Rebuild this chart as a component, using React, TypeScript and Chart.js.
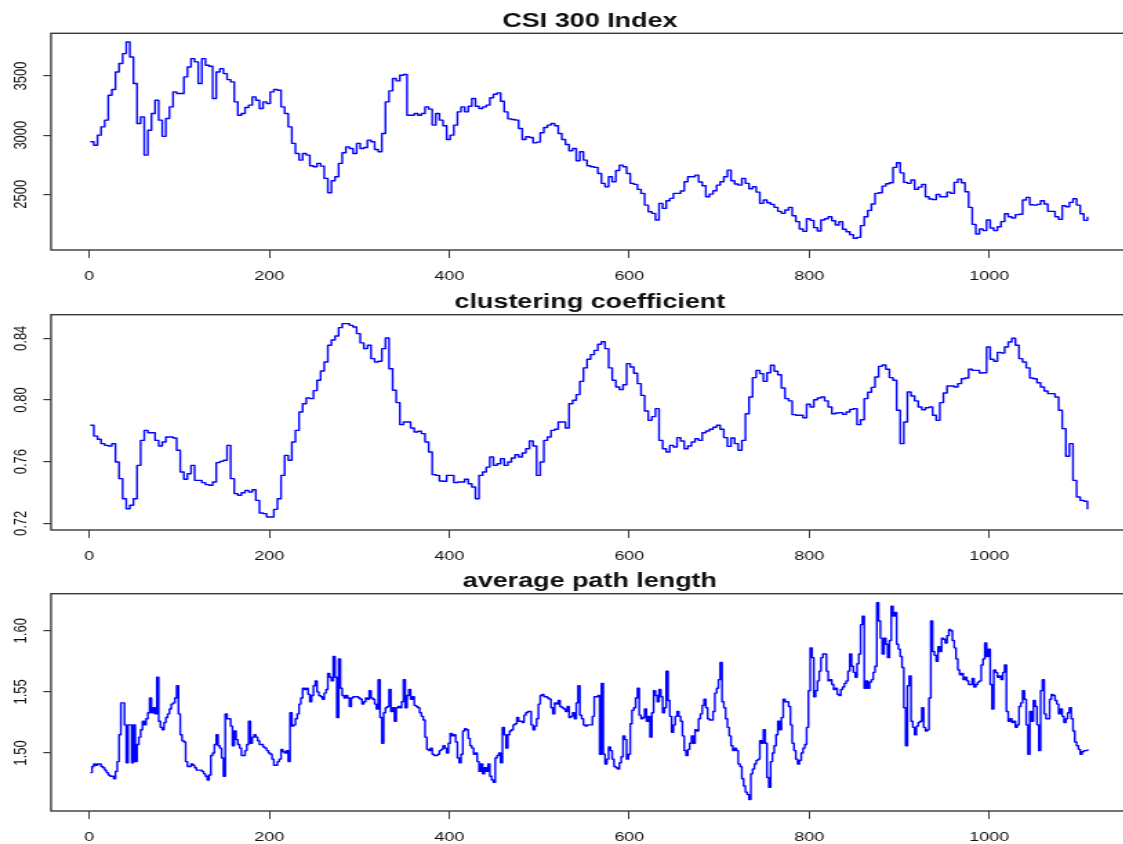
import React, { useEffect, useRef } from "react";
import { Chart, registerables } from "chart.js";

Chart.register(...registerables);

// ---- data -------------------------------------------------------------

const X_TICKS = [0, 200, 400, 600, 800, 1000];

const CSI_TICKS = [2500, 3000, 3500];
const CSI_TICK_LABELS = ["2500", "3000", "3500"];
const CC_TICKS = [0.72, 0.76, 0.8, 0.84];
const CC_TICK_LABELS = ["0.72", "0.76", "0.80", "0.84"];
const APL_TICKS = [1.5, 1.55, 1.6];
const APL_TICK_LABELS = ["1.50", "1.55", "1.60"];

// CSI 300 closing level, every 4th trading day starting at day 1
const CSI_300 = [
  2944, 2915, 3000, 3070, 3127, 3338, 3386, 3535, 3606, 3690,
  3789, 3662, 3437, 3099, 3155, 2831, 3042, 3183, 3296, 3127,
  2990, 3141, 3239, 3366, 3352, 3352, 3493, 3577, 3648, 3620,
  3437, 3648, 3592, 3583, 3310, 3535, 3563, 3521, 3470, 3451,
  3282, 3169, 3183, 3234, 3254, 3324, 3296, 3225, 3282, 3268,
  3366, 3386, 3380, 3239, 3183, 3070, 2930, 2845, 2789, 2845,
  2831, 2741, 2732, 2761, 2738, 2634, 2513, 2614, 2648, 2761,
  2851, 2901, 2887, 2845, 2930, 2887, 2896, 2958, 2944, 2879,
  2859, 3014, 3282, 3375, 3479, 3459, 3507, 3513, 3169, 3169,
  3183, 3169, 3183, 3239, 3220, 3085, 3183, 3127, 3079, 2963,
  3000, 3085, 3197, 3239, 3197, 3245, 3310, 3245, 3225, 3239,
  3254, 3316, 3346, 3358, 3287, 3197, 3138, 3132, 3127, 3056,
  2963, 2986, 2980, 2935, 2941, 3020, 3065, 3085, 3099, 3079,
  3014, 2963, 2921, 2868, 2887, 2783, 2859, 2789, 2741, 2732,
  2727, 2676, 2592, 2563, 2648, 2606, 2701, 2746, 2732, 2676,
  2592, 2583, 2541, 2507, 2408, 2352, 2338, 2282, 2423, 2380,
  2445, 2465, 2507, 2507, 2527, 2606, 2648, 2648, 2662, 2603,
  2572, 2479, 2501, 2530, 2577, 2606, 2648, 2704, 2614, 2586,
  2577, 2634, 2592, 2546, 2563, 2518, 2423, 2451, 2428, 2414,
  2389, 2355, 2338, 2366, 2389, 2318, 2268, 2206, 2186, 2293,
  2279, 2217, 2189, 2282, 2293, 2310, 2276, 2239, 2268, 2203,
  2183, 2158, 2127, 2135, 2234, 2310, 2363, 2417, 2507, 2513,
  2569, 2589, 2597, 2727, 2766, 2681, 2600, 2592, 2620, 2541,
  2560, 2583, 2479, 2459, 2454, 2499, 2479, 2479, 2518, 2507,
  2600, 2628, 2597, 2521, 2389, 2245, 2163, 2206, 2192, 2282,
  2214, 2192, 2225, 2268, 2335, 2310, 2299, 2327, 2330, 2451,
  2473, 2411, 2408, 2414, 2445, 2417, 2355, 2355, 2310, 2287,
  2403, 2394, 2431, 2462, 2408, 2335, 2279, 2310,
];

// network clustering coefficient, every 4th day
const CLUSTERING = [
  0.7836, 0.7766, 0.7745, 0.7717, 0.7706, 0.7702, 0.7717, 0.7598, 0.749, 0.736,
  0.7295, 0.7317, 0.736, 0.7576, 0.7738, 0.7803, 0.7788, 0.7788, 0.7738, 0.7702,
  0.7728, 0.776, 0.776, 0.7754, 0.7674, 0.7533, 0.7486, 0.7522, 0.7576, 0.7479,
  0.7479, 0.7464, 0.7451, 0.7447, 0.7468, 0.7594, 0.7602, 0.7609, 0.7706, 0.749,
  0.7393, 0.7382, 0.7399, 0.7414, 0.7403, 0.7418, 0.7349, 0.7267, 0.7263, 0.7241,
  0.7241, 0.7291, 0.736, 0.7511, 0.7641, 0.7609, 0.7728, 0.7803, 0.7922, 0.7976,
  0.8013, 0.8009, 0.8061, 0.8128, 0.8188, 0.8246, 0.8355, 0.8389, 0.8415, 0.8469,
  0.8495, 0.8495, 0.8484, 0.8473, 0.843, 0.837, 0.8333, 0.8355, 0.8268, 0.8246,
  0.8251, 0.8333, 0.8402, 0.8203, 0.8063, 0.7983, 0.784, 0.7857, 0.7857, 0.7818,
  0.7792, 0.7797, 0.7782, 0.7728, 0.7663, 0.7516, 0.7511, 0.7475, 0.7473, 0.7511,
  0.7511, 0.7464, 0.7468, 0.7468, 0.7486, 0.7457, 0.7436, 0.736, 0.7511, 0.7533,
  0.7565, 0.763, 0.7576, 0.7587, 0.762, 0.7576, 0.7598, 0.7624, 0.7645, 0.763,
  0.7656, 0.7684, 0.7734, 0.7702, 0.7511, 0.7598, 0.7738, 0.776, 0.7803, 0.781,
  0.7857, 0.7857, 0.7818, 0.7976, 0.7998, 0.8035, 0.8121, 0.8208, 0.8264, 0.8294,
  0.8322, 0.8361, 0.8378, 0.8333, 0.8208, 0.8128, 0.8084, 0.8067, 0.8099, 0.8236,
  0.8214, 0.8173, 0.8106, 0.803, 0.7929, 0.7868, 0.7892, 0.7944, 0.7738, 0.7684,
  0.7663, 0.7706, 0.7695, 0.7756, 0.7734, 0.7684, 0.7702, 0.7728, 0.7749, 0.7738,
  0.7788, 0.7799, 0.781, 0.7823, 0.7836, 0.781, 0.7756, 0.7699, 0.7754, 0.7717,
  0.7674, 0.7738, 0.7911, 0.8019, 0.8145, 0.8192, 0.8171, 0.8121, 0.8177, 0.8225,
  0.8186, 0.8164, 0.8078, 0.8009, 0.7994, 0.7905, 0.7901, 0.7901, 0.7885, 0.7972,
  0.7955, 0.8002, 0.8013, 0.8019, 0.7994, 0.7955, 0.7911, 0.7916, 0.7918, 0.7907,
  0.7922, 0.7939, 0.7944, 0.784, 0.7872, 0.8009, 0.805, 0.8082, 0.8149, 0.8218,
  0.8227, 0.8199, 0.8145, 0.8128, 0.7933, 0.7717, 0.7857, 0.8052, 0.8026, 0.7994,
  0.7955, 0.7937, 0.795, 0.7955, 0.7901, 0.7868, 0.7983, 0.8045, 0.8091, 0.8091,
  0.8084, 0.8106, 0.8138, 0.8143, 0.8199, 0.8192, 0.8192, 0.8175, 0.8177, 0.8344,
  0.8264, 0.8251, 0.8309, 0.8305, 0.8344, 0.8376, 0.84, 0.8355, 0.8268, 0.8246,
  0.8208, 0.8143, 0.8138, 0.8112, 0.8084, 0.8058, 0.8041, 0.8041, 0.8019, 0.7933,
  0.7814, 0.7635, 0.7717, 0.7479, 0.7371, 0.7349, 0.7343, 0.7291,
];

// network average path length, every 2nd day
const PATH_LENGTH = [
  1.484, 1.489, 1.491, 1.49, 1.491, 1.491, 1.489, 1.488, 1.486, 1.484,
  1.482, 1.481, 1.481, 1.479, 1.485, 1.493, 1.515, 1.541, 1.541, 1.523,
  1.492, 1.523, 1.523, 1.492, 1.523, 1.493, 1.507, 1.513, 1.519, 1.526,
  1.523, 1.528, 1.533, 1.545, 1.533, 1.537, 1.532, 1.562, 1.526, 1.521,
  1.519, 1.525, 1.529, 1.532, 1.536, 1.54, 1.541, 1.545, 1.555, 1.532,
  1.515, 1.51, 1.509, 1.493, 1.489, 1.489, 1.491, 1.49, 1.488, 1.486,
  1.486, 1.486, 1.485, 1.483, 1.481, 1.478, 1.482, 1.498, 1.5, 1.507,
  1.515, 1.506, 1.504, 1.496, 1.481, 1.532, 1.528, 1.528, 1.522, 1.506,
  1.518, 1.511, 1.507, 1.504, 1.498, 1.498, 1.502, 1.507, 1.526, 1.508,
  1.513, 1.515, 1.513, 1.51, 1.507, 1.507, 1.505, 1.504, 1.502, 1.5,
  1.499, 1.495, 1.49, 1.49, 1.493, 1.495, 1.503, 1.501, 1.5, 1.502,
  1.493, 1.533, 1.522, 1.523, 1.528, 1.532, 1.54, 1.545, 1.553, 1.552,
  1.553, 1.548, 1.542, 1.547, 1.555, 1.559, 1.55, 1.547, 1.546, 1.544,
  1.549, 1.552, 1.565, 1.562, 1.559, 1.579, 1.562, 1.529, 1.577, 1.553,
  1.547, 1.545, 1.547, 1.545, 1.538, 1.545, 1.546, 1.546, 1.546, 1.545,
  1.544, 1.54, 1.542, 1.545, 1.544, 1.551, 1.545, 1.544, 1.54, 1.536,
  1.56, 1.529, 1.508, 1.533, 1.537, 1.538, 1.552, 1.534, 1.537, 1.526,
  1.537, 1.538, 1.537, 1.542, 1.56, 1.537, 1.547, 1.552, 1.544, 1.546,
  1.539, 1.538, 1.537, 1.533, 1.53, 1.527, 1.513, 1.503, 1.502, 1.504,
  1.499, 1.498, 1.498, 1.499, 1.502, 1.503, 1.506, 1.504, 1.5, 1.508,
  1.516, 1.514, 1.515, 1.509, 1.496, 1.492, 1.499, 1.518, 1.52, 1.519,
  1.512, 1.506, 1.504, 1.499, 1.5, 1.493, 1.485, 1.491, 1.483, 1.488,
  1.485, 1.491, 1.481, 1.478, 1.476, 1.496, 1.498, 1.5, 1.492, 1.521,
  1.515, 1.504, 1.515, 1.518, 1.519, 1.523, 1.524, 1.529, 1.526, 1.526,
  1.525, 1.531, 1.533, 1.534, 1.534, 1.523, 1.519, 1.522, 1.528, 1.54,
  1.547, 1.548, 1.546, 1.546, 1.545, 1.544, 1.537, 1.532, 1.541, 1.54,
  1.543, 1.538, 1.537, 1.536, 1.534, 1.538, 1.529, 1.53, 1.533, 1.528,
  1.541, 1.555, 1.531, 1.528, 1.523, 1.522, 1.523,
  1.523, 1.523, 1.53, 1.546, 1.546, 1.547, 1.499, 1.557, 1.499, 1.491,
  1.495, 1.505, 1.502, 1.495, 1.489, 1.488, 1.487, 1.492, 1.497, 1.514,
  1.511, 1.495, 1.499, 1.524, 1.535, 1.537, 1.545, 1.553, 1.531, 1.528,
  1.529, 1.536, 1.526, 1.53, 1.513, 1.533, 1.551, 1.547, 1.542, 1.552,
  1.546, 1.533, 1.537, 1.567, 1.543, 1.53, 1.517, 1.523, 1.53, 1.534,
  1.53, 1.526, 1.514, 1.502, 1.498, 1.503, 1.508, 1.514, 1.508, 1.519,
  1.518, 1.528, 1.532, 1.539, 1.544, 1.537, 1.528, 1.527, 1.527, 1.534,
  1.549, 1.553, 1.56, 1.574, 1.542, 1.537, 1.528, 1.521, 1.514, 1.506,
  1.502, 1.504, 1.502, 1.491, 1.489, 1.479, 1.473, 1.468, 1.466, 1.462,
  1.483, 1.487, 1.491, 1.494, 1.495, 1.51, 1.508, 1.519, 1.508, 1.48,
  1.472, 1.493, 1.5, 1.506, 1.515, 1.526, 1.519, 1.529, 1.544, 1.542,
  1.542, 1.538, 1.523, 1.508, 1.502, 1.495, 1.491, 1.494, 1.5, 1.504,
  1.507, 1.521, 1.551, 1.586, 1.578, 1.546, 1.551, 1.559, 1.567, 1.578,
  1.581, 1.581, 1.567, 1.559, 1.56, 1.556, 1.552, 1.553, 1.548, 1.547,
  1.552, 1.554, 1.557, 1.559, 1.567, 1.581, 1.571, 1.566, 1.562, 1.573,
  1.581, 1.605, 1.612, 1.553, 1.559, 1.553, 1.558, 1.56, 1.566, 1.571,
  1.623, 1.608, 1.594, 1.581, 1.594, 1.589, 1.578, 1.592, 1.62, 1.612,
  1.615, 1.589, 1.585, 1.579, 1.57, 1.537, 1.506, 1.555, 1.563, 1.526,
  1.521, 1.515, 1.522, 1.525, 1.526, 1.537, 1.521, 1.518, 1.519, 1.545,
  1.608, 1.583, 1.58, 1.575, 1.587, 1.583, 1.594, 1.593, 1.59, 1.596,
  1.601, 1.6, 1.592, 1.586, 1.577, 1.568, 1.564, 1.565, 1.56, 1.562,
  1.559, 1.556, 1.556, 1.561, 1.554, 1.556, 1.558, 1.559, 1.572, 1.577,
  1.59, 1.579, 1.585, 1.556, 1.536, 1.568, 1.566, 1.562, 1.563, 1.56,
  1.566, 1.572, 1.534, 1.526, 1.528, 1.525, 1.526, 1.521, 1.523, 1.538,
  1.541, 1.551, 1.544, 1.523, 1.499, 1.534, 1.526, 1.543, 1.538, 1.523,
  1.502, 1.551, 1.56, 1.532, 1.528, 1.528, 1.544, 1.548, 1.547, 1.543,
  1.54, 1.532, 1.536, 1.53, 1.525, 1.528, 1.533, 1.537, 1.528, 1.518,
  1.509, 1.506, 1.503, 1.499, 1.501, 1.502, 1.502, 1.503,
];

const CSI_DAYS = CSI_300.map((_, i) => 1 + i * 4);
const CLUSTERING_DAYS = CLUSTERING.map((_, i) => 1 + i * 4);
const PATH_LENGTH_DAYS = PATH_LENGTH.map((_, i) => 1 + i * 2);

// ---- layout -------------------------------------------------------------

// Each panel is drawn on a narrower canvas and widened with CSS.
const INTERNAL_W = 826;
const DISPLAY_W = 1140;
const SX = DISPLAY_W / INTERNAL_W;

const FRAME_LEFT = 51 / SX;
const FRAME_RIGHT = 1128.8 / SX;
const X_MIN = -42.6;
const X_MAX = 1155;

const LINE_COLOR = "#0000ff";
const FRAME_COLOR = "#3a3a3a";
const TEXT_COLOR = "#111111";
const FONT = '"Liberation Sans", Arial, Helvetica, sans-serif';

type PanelSpec = {
  title: string;
  days: number[];
  values: number[];
  yMin: number;
  yMax: number;
  yTicks: number[];
  yLabels: string[];
  top: number;
  height: number;
  frameTop: number;
  frameBottom: number;
};

const decorPlugin = {
  id: "panelDecor",
  afterDraw(chart: any, _args: any, opts: any) {
    const { ctx, chartArea: a, scales } = chart;
    ctx.save();

    // plot box
    ctx.strokeStyle = FRAME_COLOR;
    ctx.lineWidth = 1.4;
    ctx.strokeRect(a.left, a.top, a.right - a.left, a.bottom - a.top);

    ctx.fillStyle = TEXT_COLOR;

    // title
    ctx.font = `bold 19.5px ${FONT}`;
    ctx.textAlign = "center";
    ctx.textBaseline = "alphabetic";
    ctx.fillText(opts.title, (a.left + a.right) / 2, a.top - 6.6);

    // x tick labels
    ctx.font = `13px ${FONT}`;
    for (const t of scales.x.ticks) {
      ctx.fillText(String(t.value), scales.x.getPixelForValue(t.value), a.bottom + 29.8);
    }

    // y tick labels, parallel to the axis
    scales.y.ticks.forEach((t: any, i: number) => {
      const y = scales.y.getPixelForValue(t.value);
      ctx.save();
      ctx.translate(18.8, y);
      ctx.rotate(-Math.PI / 2);
      ctx.fillText(opts.yLabels[i], 0, 0);
      ctx.restore();
    });

    ctx.restore();
  },
};

function Panel(p: PanelSpec) {
  const ref = useRef<HTMLCanvasElement>(null);

  useEffect(() => {
    const canvas = ref.current;
    if (!canvas) return;
    const axisHeight = p.top + p.height - p.frameBottom;

    const chart = new Chart(canvas, {
      type: "line",
      data: {
        datasets: [
          {
            data: p.days.map((x, i) => ({ x, y: p.values[i] })),
            borderColor: LINE_COLOR,
            borderWidth: 1.4,
            borderJoinStyle: "round",
            stepped: true,
            pointRadius: 0,
            tension: 0,
            fill: false,
          },
        ],
      },
      options: {
        animation: false,
        responsive: false,
        devicePixelRatio: 1,
        events: [],
        layout: {
          padding: {
            left: 0,
            right: INTERNAL_W - FRAME_RIGHT,
            top: p.frameTop - p.top,
            bottom: 0,
          },
        },
        plugins: {
          legend: { display: false },
          tooltip: { enabled: false },
          title: { display: false },
          panelDecor: { title: p.title, yLabels: p.yLabels },
        } as any,
        scales: {
          x: {
            type: "linear",
            position: "bottom",
            min: X_MIN,
            max: X_MAX,
            afterBuildTicks: (s: any) => {
              s.ticks = X_TICKS.map((v) => ({ value: v }));
            },
            afterFit: (s: any) => {
              s.height = axisHeight;
            },
            ticks: { display: false },
            grid: {
              drawOnChartArea: false,
              drawTicks: true,
              tickLength: 8,
              color: FRAME_COLOR,
              lineWidth: 1,
            },
            border: { display: false },
          },
          y: {
            type: "linear",
            position: "left",
            min: p.yMin,
            max: p.yMax,
            afterBuildTicks: (s: any) => {
              s.ticks = p.yTicks.map((v) => ({ value: v }));
            },
            afterFit: (s: any) => {
              s.width = FRAME_LEFT;
            },
            ticks: { display: false },
            grid: {
              drawOnChartArea: false,
              drawTicks: true,
              tickLength: 5.6,
              color: FRAME_COLOR,
              lineWidth: 1.2,
            },
            border: { display: false },
          },
        },
      },
      plugins: [decorPlugin],
    } as any);

    return () => chart.destroy();
  }, []);

  return (
    <canvas
      ref={ref}
      width={INTERNAL_W}
      height={p.height}
      style={{
        position: "absolute",
        left: 0,
        top: p.top,
        width: `${DISPLAY_W}px`,
        height: `${p.height}px`,
      }}
    />
  );
}

export default function App() {
  return (
    <div
      style={{
        position: "fixed",
        left: 0,
        top: 0,
        width: 1123,
        height: 844,
        overflow: "hidden",
        background: "#ffffff",
      }}
    >
      <Panel
        title="CSI 300 Index"
        days={CSI_DAYS}
        values={CSI_300}
        yMin={2028}
        yMax={3862}
        yTicks={CSI_TICKS}
        yLabels={CSI_TICK_LABELS}
        top={0}
        height={281}
        frameTop={33.3}
        frameBottom={250}
      />
      <Panel
        title="clustering coefficient"
        days={CLUSTERING_DAYS}
        values={CLUSTERING}
        yMin={0.7157}
        yMax={0.8553}
        yTicks={CC_TICKS}
        yLabels={CC_TICK_LABELS}
        top={281}
        height={281}
        frameTop={314.7}
        frameBottom={530}
      />
      <Panel
        title="average path length"
        days={PATH_LENGTH_DAYS}
        values={PATH_LENGTH}
        yMin={1.4526}
        yMax={1.6303}
        yTicks={APL_TICKS}
        yLabels={APL_TICK_LABELS}
        top={562}
        height={282}
        frameTop={593.7}
        frameBottom={811}
      />
    </div>
  );
}
